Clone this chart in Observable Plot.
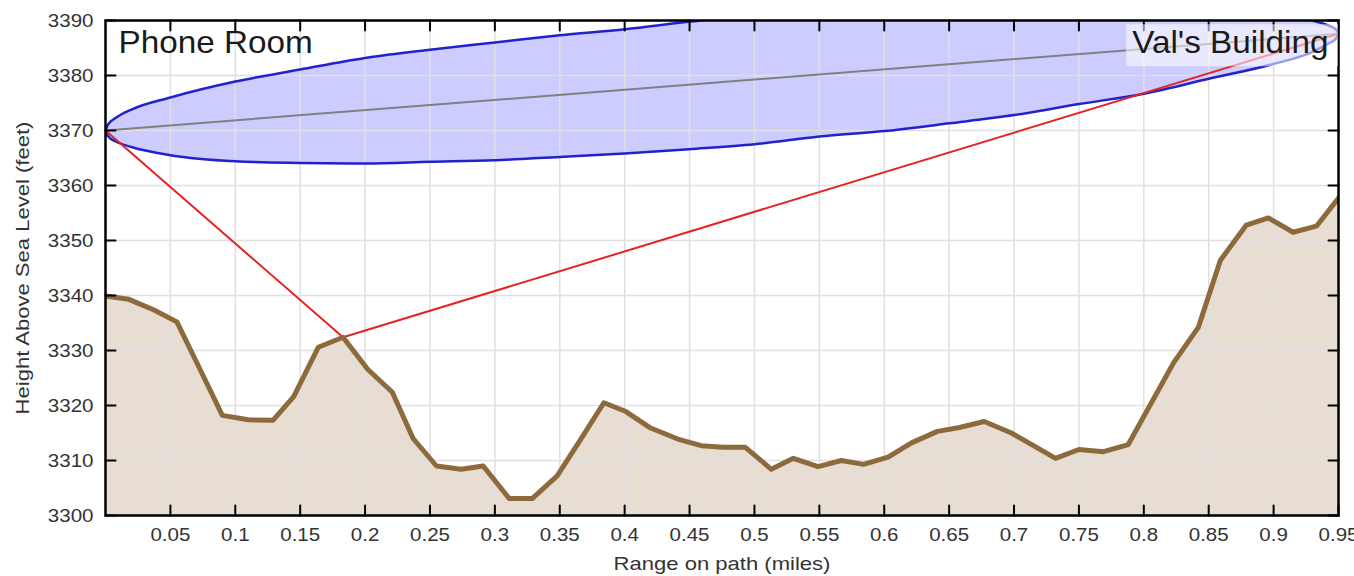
<!DOCTYPE html>
<html><head><meta charset="utf-8">
<script src="https://cdn.jsdelivr.net/npm/d3@7"></script>
<script src="https://cdn.jsdelivr.net/npm/@observablehq/plot@0.6"></script>
<style>
html,body{margin:0;padding:0;background:#fff;}
#chart svg{display:block;}
</style></head><body><div id="chart"></div>
<script>
// Terrain profile (miles, feet)
const terrainMiles = [0, 0.018, 0.037, 0.055, 0.073, 0.090, 0.110, 0.129, 0.145, 0.164, 0.183, 0.202, 0.221, 0.237, 0.255, 0.274, 0.291, 0.311, 0.329, 0.348, 0.366, 0.384, 0.401, 0.420, 0.441, 0.459, 0.476, 0.493, 0.513, 0.530, 0.549, 0.567, 0.584, 0.603, 0.621, 0.641, 0.658, 0.677, 0.698, 0.715, 0.732, 0.750, 0.769, 0.788, 0.808, 0.823, 0.842, 0.859, 0.879, 0.896, 0.915, 0.933, 0.950];
const terrainFeet = [3339.9, 3339.3, 3337.4, 3335.2, 3326.5, 3318.2, 3317.4, 3317.3, 3321.6, 3330.6, 3332.4, 3326.6, 3322.4, 3314.0, 3309.0, 3308.4, 3309.0, 3303.1, 3303.1, 3307.2, 3313.8, 3320.5, 3318.9, 3315.9, 3313.9, 3312.7, 3312.4, 3312.4, 3308.4, 3310.4, 3308.9, 3310.0, 3309.3, 3310.6, 3313.2, 3315.3, 3316.0, 3317.1, 3315.0, 3312.7, 3310.4, 3312.0, 3311.6, 3312.9, 3321.4, 3327.8, 3334.2, 3346.4, 3352.8, 3354.1, 3351.5, 3352.6, 3357.7];

// Fresnel zone boundary (miles, lower feet, upper feet)
const zoneMiles = [0, 0.002, 0.008, 0.02, 0.05, 0.1, 0.15, 0.2, 0.25, 0.3, 0.35, 0.4, 0.45, 0.5, 0.55, 0.6, 0.65, 0.7, 0.75, 0.8, 0.85, 0.9, 0.93, 0.942, 0.948, 0.95];
const zoneLower = [3370, 3368.95, 3368.0, 3367.0, 3365.5, 3364.4, 3364.1, 3364.0, 3364.3, 3364.6, 3365.2, 3365.8, 3366.6, 3367.5, 3368.9, 3369.9, 3371.3, 3372.8, 3374.8, 3376.7, 3379.4, 3382.1, 3384.3, 3385.8, 3386.7, 3387.6];
const zoneUpper = [3370, 3371.1, 3372.3, 3373.8, 3376.0, 3378.9, 3381.1, 3383.2, 3384.7, 3386.0, 3387.3, 3388.4, 3389.8, 3391.0, 3391.6, 3392.4, 3392.8, 3393.1, 3393.0, 3392.9, 3392.2, 3391.1, 3390.0, 3389.1, 3388.4, 3387.6];

// Direct line of sight and reflected path
const losMiles = [0, 0.95];
const losFeet = [3370, 3387.6];
const reflMiles = [0, 0.183, 0.95];
const reflFeet = [3370, 3332.4, 3387.6];

const endpointNames = ["Phone Room", "Val's Building"];
const xLabel = "Range on path (miles)";
const yLabel = "Height Above Sea Level (feet)";
const xTicks = [0.05, 0.1, 0.15, 0.2, 0.25, 0.3, 0.35, 0.4, 0.45, 0.5, 0.55, 0.6, 0.65, 0.7, 0.75, 0.8, 0.85, 0.9, 0.95];
const yTicks = [3300, 3310, 3320, 3330, 3340, 3350, 3360, 3370, 3380, 3390];
const xDomain = [0, 0.95];
const yDomain = [3300, 3390];

const terrain = terrainMiles.map((x, i) => ({x, y: terrainFeet[i]}));
const zone = zoneMiles.map((x, i) => ({x, lo: zoneLower[i], hi: zoneUpper[i]}));
const los = losMiles.map((x, i) => ({x, y: losFeet[i]}));
const refl = reflMiles.map((x, i) => ({x, y: reflFeet[i]}));

const FONT = "'Liberation Sans', Arial, Helvetica, sans-serif";
const fmtX = d => `${+d.toFixed(2)}`;
const fmtY = d => `${d}`;

// straight tick shape for vector marks
const tickShape = {draw(context, l) { context.moveTo(0, 0); context.lineTo(0, -l); }};
const tickStyle = {length: 10, anchor: "start", shape: tickShape, stroke: "#000", strokeWidth: 2};

const chart = Plot.plot({
  width: 1354,
  height: 576,
  marginLeft: 105,
  marginRight: 16,
  marginTop: 20,
  marginBottom: 61,
  style: {fontFamily: FONT, background: "#fff", color: "#333", overflow: "visible"},
  x: {domain: xDomain},
  y: {domain: yDomain},
  marks: [
    Plot.areaY(terrain, {x: "x", y1: yDomain[0], y2: "y", fill: "#e8ddd2", clip: true}),
    Plot.areaY(zone, {x: "x", y1: "lo", y2: "hi", fill: "#ccccff", curve: "monotone-x", clip: true}),
    Plot.gridX({ticks: xTicks, stroke: "#e0e0e0", strokeOpacity: 1, strokeWidth: 1.5}),
    Plot.gridY({ticks: yTicks, stroke: "#e0e0e0", strokeOpacity: 1, strokeWidth: 1.5}),
    Plot.line(zone, {x: "x", y: "hi", stroke: "#2222cc", strokeWidth: 2.5, curve: "monotone-x", clip: true}),
    Plot.line(zone, {x: "x", y: "lo", stroke: "#2222cc", strokeWidth: 2.5, curve: "monotone-x", clip: true}),
    Plot.line(los, {x: "x", y: "y", stroke: "#808080", strokeWidth: 2}),
    Plot.line(refl, {x: "x", y: "y", stroke: "#e62222", strokeWidth: 2}),
    Plot.line(terrain, {x: "x", y: "y", stroke: "#8c6a3c", strokeWidth: 5, strokeLinejoin: "round", clip: true}),
    Plot.frame({stroke: "#000", strokeWidth: 2.5}),
    // inward tick marks on all four sides
    Plot.vector(xTicks, {x: d => d, frameAnchor: "bottom", rotate: 0, ...tickStyle}),
    Plot.vector(xTicks, {x: d => d, frameAnchor: "top", rotate: 180, ...tickStyle}),
    Plot.vector(yTicks, {y: d => d, frameAnchor: "left", rotate: 90, ...tickStyle}),
    Plot.vector(yTicks, {y: d => d, frameAnchor: "right", rotate: 270, ...tickStyle}),
    // tick labels
    Plot.axisX({ticks: xTicks, anchor: "bottom", tickSize: 0, tickPadding: 12, tickFormat: fmtX, label: null, fontSize: 19}),
    Plot.axisY({ticks: yTicks, anchor: "left", tickSize: 0, tickPadding: 12, tickFormat: fmtY, label: null, fontSize: 19}),
    // axis titles
    Plot.text([xLabel], {text: d => d, frameAnchor: "bottom", textAnchor: "middle", lineAnchor: "bottom", dy: 54, fontSize: 19, fill: "#333"}),
    Plot.text([yLabel], {text: d => d, frameAnchor: "left", textAnchor: "middle", lineAnchor: "bottom", rotate: -90, dx: -77, fontSize: 19, fill: "#333"}),
    // endpoint names
    Plot.text([endpointNames[0]], {text: d => d, frameAnchor: "top-left", textAnchor: "start", lineAnchor: "top", dx: 13, dy: 10, fontSize: 32, fill: "#1a1a1a"}),
    Plot.text([endpointNames[1]], {text: d => d, frameAnchor: "top-right", textAnchor: "end", lineAnchor: "top", dx: -10, dy: 10, fontSize: 32, fill: "#1a1a1a"})
  ]
});

document.getElementById("chart").appendChild(chart);

// widen glyphs slightly to match the reference's text proportions
chart.querySelectorAll("text").forEach(t => {
  const g = t.closest("g[aria-label]");
  const label = g ? g.getAttribute("aria-label") : "";
  const fs = parseFloat(getComputedStyle(t).fontSize);
  let f = 1.16;
  if (fs >= 30) f = 1.04;
  else if (label && label.includes("tick label")) f = 1.08;
  const len = t.getComputedTextLength();
  if (len > 0) {
    t.setAttribute("textLength", (len * f).toFixed(1));
    t.setAttribute("lengthAdjust", "spacingAndGlyphs");
  }
});

// translucent white box behind "Val's Building"
const valsText = Array.from(chart.querySelectorAll("text")).find(t => t.textContent === endpointNames[1]);
if (valsText) {
  const sb = chart.getBoundingClientRect();
  const tb = valsText.getBoundingClientRect();
  const frameRight = 1354 - 16;
  const x0 = tb.left - sb.left - 6;
  const rect = document.createElementNS("http://www.w3.org/2000/svg", "rect");
  rect.setAttribute("x", x0);
  rect.setAttribute("y", tb.top - sb.top);
  rect.setAttribute("width", frameRight - x0);
  rect.setAttribute("height", tb.height + 6);
  rect.setAttribute("fill", "#fff");
  rect.setAttribute("fill-opacity", 0.55);
  const markGroup = valsText.closest("g[aria-label]");
  markGroup.parentNode.insertBefore(rect, markGroup);
}
</script>
</body></html>
